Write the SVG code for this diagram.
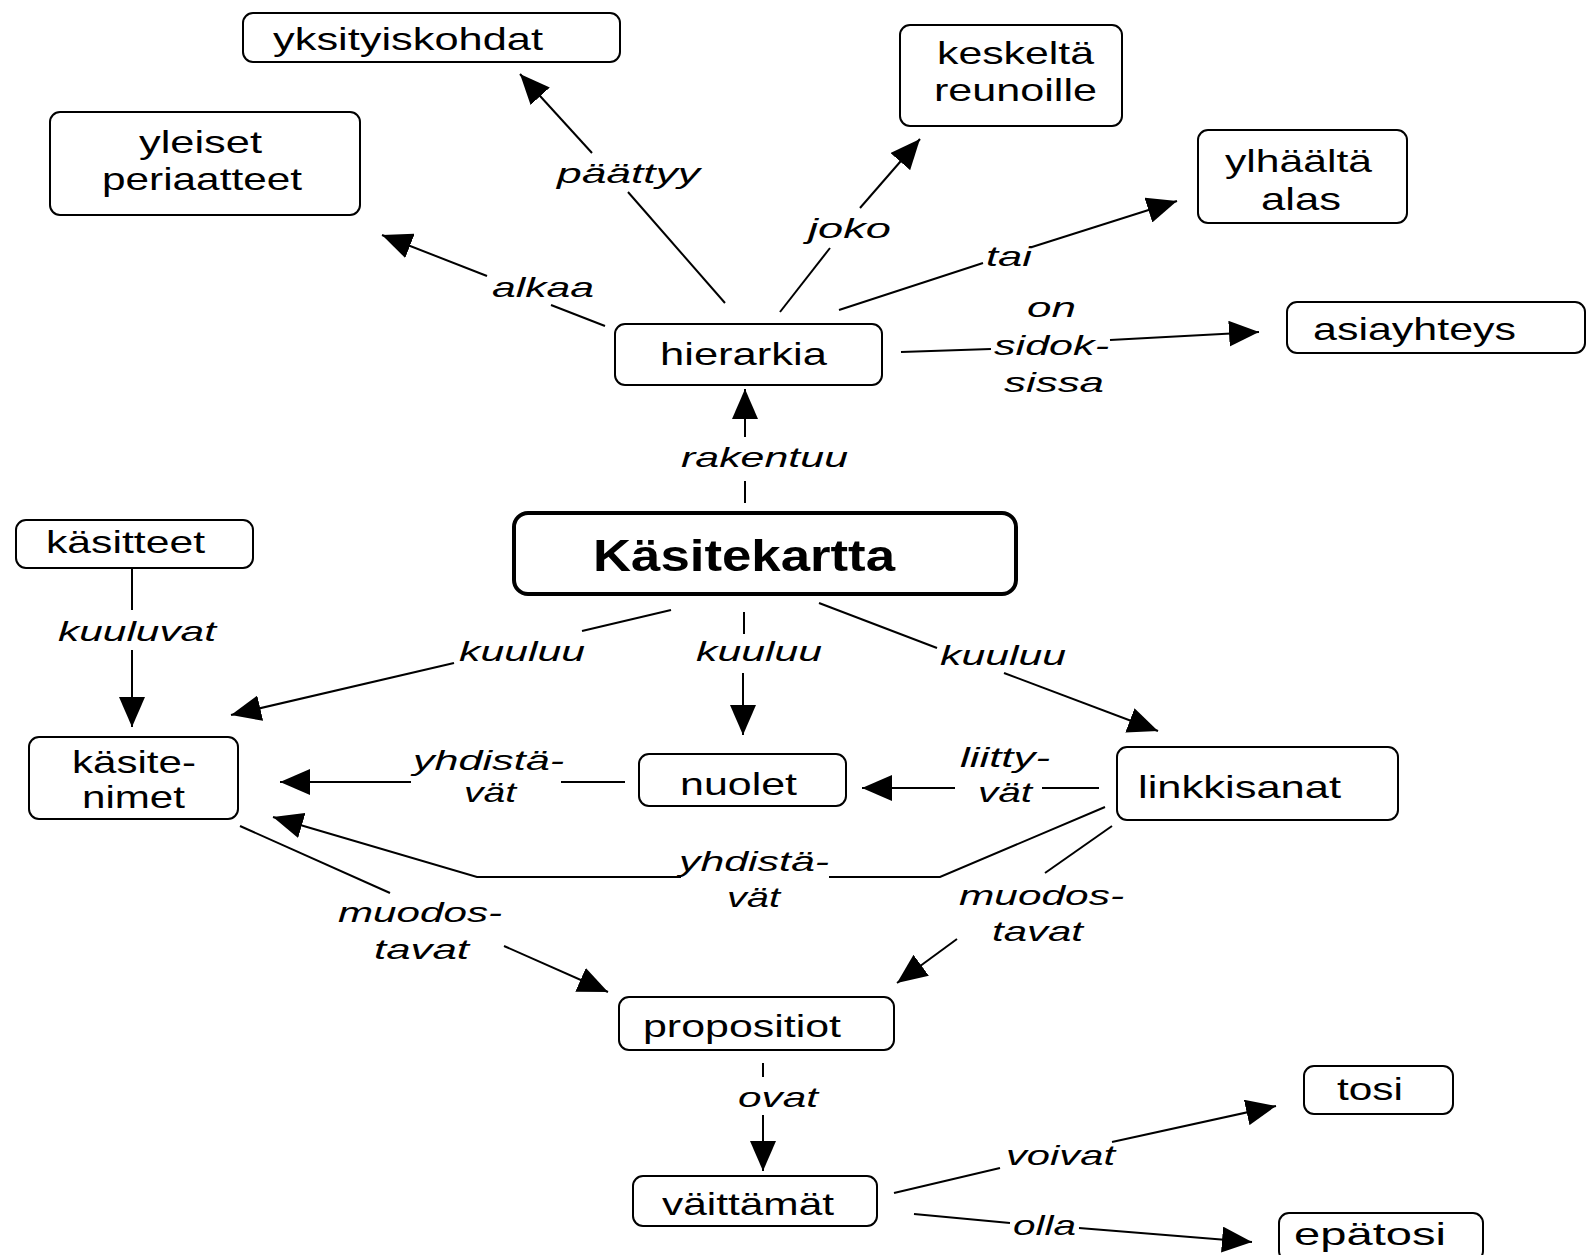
<svg xmlns="http://www.w3.org/2000/svg" width="1587" height="1255" viewBox="0 0 1587 1255">
<defs>
<marker id="ah" markerUnits="userSpaceOnUse" markerWidth="30" markerHeight="26" refX="30" refY="13" orient="auto" viewBox="0 0 30 26">
<path d="M0,0 L30,13 L0,26 z" fill="#000"/>
</marker>
<style>
.box{fill:#fff;stroke:#000;stroke-width:2}
.main{fill:#fff;stroke:#000;stroke-width:4}
.t{font-family:"Liberation Sans",Arial,sans-serif;font-size:32px;fill:#000}
.tb{font-family:"Liberation Sans",Arial,sans-serif;font-size:45px;font-weight:bold;fill:#000}
.l{font-family:"Liberation Sans",Arial,sans-serif;font-size:28px;font-style:italic;fill:#000}
.c line,.c polyline{stroke:#000;stroke-width:2;fill:none}
</style>
</defs>
<rect width="1587" height="1255" fill="#fff"/>
<g class="c" id="connectors">
<line x1="725" y1="303" x2="628" y2="192"/><line x1="592" y1="153" x2="520" y2="74" marker-end="url(#ah)"/>
<line x1="605" y1="326" x2="551" y2="305"/><line x1="487" y1="276" x2="382" y2="235" marker-end="url(#ah)"/>
<line x1="780" y1="312" x2="830" y2="248"/><line x1="860" y1="208" x2="920" y2="139" marker-end="url(#ah)"/>
<line x1="839" y1="310" x2="983" y2="263"/><line x1="1032" y1="247" x2="1177" y2="201" marker-end="url(#ah)"/>
<line x1="901" y1="352" x2="991" y2="349"/><line x1="1110" y1="340" x2="1259" y2="332" marker-end="url(#ah)"/>
<line x1="745" y1="503" x2="745" y2="481"/><line x1="745" y1="437" x2="745" y2="389" marker-end="url(#ah)"/>
<line x1="671" y1="610" x2="582" y2="631"/><line x1="454" y1="663" x2="231" y2="715" marker-end="url(#ah)"/>
<line x1="744" y1="612" x2="744" y2="634"/><line x1="743" y1="673" x2="743" y2="735" marker-end="url(#ah)"/>
<line x1="819" y1="603" x2="937" y2="648"/><line x1="1004" y1="673" x2="1158" y2="731" marker-end="url(#ah)"/>
<line x1="132" y1="568" x2="132" y2="610"/><line x1="132" y1="650" x2="132" y2="727" marker-end="url(#ah)"/>
<line x1="625" y1="782" x2="561" y2="782"/><line x1="411" y1="782" x2="280" y2="782" marker-end="url(#ah)"/>
<line x1="1099" y1="788" x2="1042" y2="788"/><line x1="955" y1="788" x2="862" y2="788" marker-end="url(#ah)"/>
<polyline points="1105,807 940,877 829,877"/><polyline points="681,877 477,877 273,817" marker-end="url(#ah)"/>
<line x1="240" y1="826" x2="390" y2="893"/><line x1="504" y1="946" x2="608" y2="992" marker-end="url(#ah)"/>
<line x1="1112" y1="826" x2="1045" y2="873"/><line x1="957" y1="939" x2="897" y2="983" marker-end="url(#ah)"/>
<line x1="763" y1="1063" x2="763" y2="1077"/><line x1="763" y1="1115" x2="763" y2="1171" marker-end="url(#ah)"/>
<line x1="894" y1="1193" x2="1000" y2="1168"/><line x1="1112" y1="1142" x2="1276" y2="1106" marker-end="url(#ah)"/>
<line x1="914" y1="1214" x2="1010" y2="1223"/><line x1="1079" y1="1228" x2="1252" y2="1242" marker-end="url(#ah)"/>
</g>
<g id="labels">
<text class="l" x="557" y="183" textLength="143" lengthAdjust="spacingAndGlyphs">päättyy</text>
<text class="l" x="492" y="297" textLength="102" lengthAdjust="spacingAndGlyphs">alkaa</text>
<text class="l" x="808" y="238" textLength="83" lengthAdjust="spacingAndGlyphs">joko</text>
<text class="l" x="986" y="266" textLength="46" lengthAdjust="spacingAndGlyphs">tai</text>
<text class="l" x="1027" y="317" textLength="49" lengthAdjust="spacingAndGlyphs">on</text>
<text class="l" x="994" y="355" textLength="115" lengthAdjust="spacingAndGlyphs">sidok-</text>
<text class="l" x="1004" y="392" textLength="100" lengthAdjust="spacingAndGlyphs">sissa</text>
<text class="l" x="681" y="467" textLength="167" lengthAdjust="spacingAndGlyphs">rakentuu</text>
<text class="l" x="58" y="641" textLength="158" lengthAdjust="spacingAndGlyphs">kuuluvat</text>
<text class="l" x="459" y="661" textLength="126" lengthAdjust="spacingAndGlyphs">kuuluu</text>
<text class="l" x="696" y="661" textLength="126" lengthAdjust="spacingAndGlyphs">kuuluu</text>
<text class="l" x="940" y="665" textLength="126" lengthAdjust="spacingAndGlyphs">kuuluu</text>
<text class="l" x="413" y="770" textLength="151" lengthAdjust="spacingAndGlyphs">yhdistä-</text>
<text class="l" x="464" y="802" textLength="52" lengthAdjust="spacingAndGlyphs">vät</text>
<text class="l" x="960" y="767" textLength="90" lengthAdjust="spacingAndGlyphs">liitty-</text>
<text class="l" x="978" y="802" textLength="54" lengthAdjust="spacingAndGlyphs">vät</text>
<text class="l" x="679" y="871" textLength="150" lengthAdjust="spacingAndGlyphs">yhdistä-</text>
<text class="l" x="727" y="907" textLength="53" lengthAdjust="spacingAndGlyphs">vät</text>
<text class="l" x="338" y="922" textLength="164" lengthAdjust="spacingAndGlyphs">muodos-</text>
<text class="l" x="374" y="959" textLength="95" lengthAdjust="spacingAndGlyphs">tavat</text>
<text class="l" x="959" y="905" textLength="165" lengthAdjust="spacingAndGlyphs">muodos-</text>
<text class="l" x="992" y="941" textLength="91" lengthAdjust="spacingAndGlyphs">tavat</text>
<text class="l" x="738" y="1107" textLength="80" lengthAdjust="spacingAndGlyphs">ovat</text>
<text class="l" x="1006" y="1165" textLength="109" lengthAdjust="spacingAndGlyphs">voivat</text>
<text class="l" x="1013" y="1235" textLength="63" lengthAdjust="spacingAndGlyphs">olla</text>
</g>
<g id="n-yksityiskohdat"><rect class="box" x="243" y="13" width="377" height="49" rx="10"/><text class="t" x="273" y="50" textLength="270" lengthAdjust="spacingAndGlyphs">yksityiskohdat</text></g>
<g id="n-yleiset"><rect class="box" x="50" y="112" width="310" height="103" rx="10"/><text class="t" x="139" y="153" textLength="123" lengthAdjust="spacingAndGlyphs">yleiset</text><text class="t" x="102" y="190" textLength="200" lengthAdjust="spacingAndGlyphs">periaatteet</text></g>
<g id="n-keskelta"><rect class="box" x="900" y="25" width="222" height="101" rx="10"/><text class="t" x="937" y="64" textLength="157" lengthAdjust="spacingAndGlyphs">keskeltä</text><text class="t" x="934" y="101" textLength="163" lengthAdjust="spacingAndGlyphs">reunoille</text></g>
<g id="n-ylhaalta"><rect class="box" x="1198" y="130" width="209" height="93" rx="10"/><text class="t" x="1225" y="172" textLength="147" lengthAdjust="spacingAndGlyphs">ylhäältä</text><text class="t" x="1261" y="210" textLength="80" lengthAdjust="spacingAndGlyphs">alas</text></g>
<g id="n-asiayhteys"><rect class="box" x="1287" y="302" width="298" height="51" rx="10"/><text class="t" x="1313" y="340" textLength="203" lengthAdjust="spacingAndGlyphs">asiayhteys</text></g>
<g id="n-hierarkia"><rect class="box" x="615" y="324" width="267" height="61" rx="10"/><text class="t" x="660" y="365" textLength="167" lengthAdjust="spacingAndGlyphs">hierarkia</text></g>
<g id="n-kasitekartta"><rect class="main" x="514" y="513" width="502" height="81" rx="14"/><text class="tb" x="593" y="571" textLength="302" lengthAdjust="spacingAndGlyphs">Käsitekartta</text></g>
<g id="n-kasitteet"><rect class="box" x="16" y="520" width="237" height="48" rx="10"/><text class="t" x="46" y="553" textLength="159" lengthAdjust="spacingAndGlyphs">käsitteet</text></g>
<g id="n-kasitenimet"><rect class="box" x="29" y="737" width="209" height="82" rx="10"/><text class="t" x="72" y="773" textLength="124" lengthAdjust="spacingAndGlyphs">käsite-</text><text class="t" x="82" y="808" textLength="103" lengthAdjust="spacingAndGlyphs">nimet</text></g>
<g id="n-nuolet"><rect class="box" x="639" y="754" width="207" height="52" rx="10"/><text class="t" x="680" y="795" textLength="117" lengthAdjust="spacingAndGlyphs">nuolet</text></g>
<g id="n-linkkisanat"><rect class="box" x="1117" y="747" width="281" height="73" rx="10"/><text class="t" x="1138" y="798" textLength="203" lengthAdjust="spacingAndGlyphs">linkkisanat</text></g>
<g id="n-propositiot"><rect class="box" x="619" y="997" width="275" height="53" rx="10"/><text class="t" x="643" y="1037" textLength="198" lengthAdjust="spacingAndGlyphs">propositiot</text></g>
<g id="n-vaittamat"><rect class="box" x="633" y="1176" width="244" height="50" rx="10"/><text class="t" x="662" y="1215" textLength="172" lengthAdjust="spacingAndGlyphs">väittämät</text></g>
<g id="n-tosi"><rect class="box" x="1304" y="1066" width="149" height="48" rx="10"/><text class="t" x="1337" y="1100" textLength="66" lengthAdjust="spacingAndGlyphs">tosi</text></g>
<g id="n-epatosi"><rect class="box" x="1279" y="1213" width="204" height="48" rx="10"/><text class="t" x="1294" y="1245" textLength="152" lengthAdjust="spacingAndGlyphs">epätosi</text></g>
</svg>
